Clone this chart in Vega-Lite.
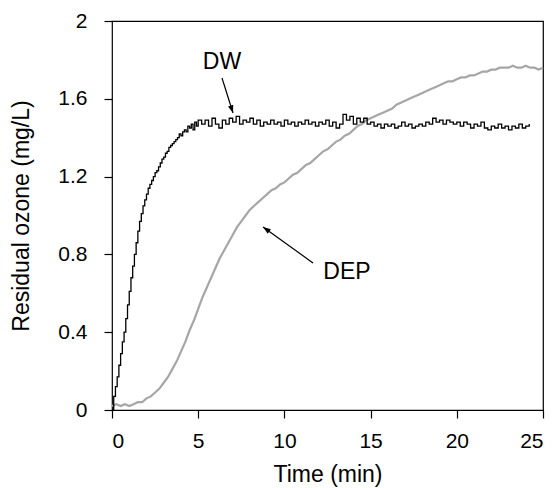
{
  "$schema": "https://vega.github.io/schema/vega-lite/v6.json",
  "width": 431,
  "height": 389,
  "autosize": {"type": "none"},
  "padding": {"left": 112, "top": 21, "right": 16, "bottom": 78},
  "background": "white",
  "config": {
    "view": {"stroke": "black", "strokeWidth": 1.2},
    "font": "Liberation Sans",
    "axis": {
      "grid": false,
      "domain": false,
      "ticks": true,
      "tickSize": 8,
      "tickColor": "black",
      "tickWidth": 1.2,
      "tickOpacity": 1,
      "zindex": 1,
      "labelColor": "black",
      "titleColor": "black",
      "labelFontSize": 21,
      "titleFontSize": 23,
      "titleFontWeight": "normal",
      "labelFont": "Liberation Sans",
      "titleFont": "Liberation Sans"
    }
  },
  "datasets": {
    "dw": [
      {"t":0,"v":0},{"t":0.1,"v":0.07},{"t":0.2,"v":0.12},{"t":0.3,"v":0.17},{"t":0.4,"v":0.23},{"t":0.5,"v":0.29},{"t":0.6,"v":0.35},{"t":0.7,"v":0.40},{"t":0.8,"v":0.47},{"t":0.9,"v":0.54},
      {"t":1.0,"v":0.61},{"t":1.1,"v":0.68},{"t":1.2,"v":0.74},{"t":1.3,"v":0.80},{"t":1.4,"v":0.86},{"t":1.5,"v":0.92},{"t":1.6,"v":0.97},{"t":1.7,"v":1.01},{"t":1.8,"v":1.05},{"t":1.9,"v":1.08},
      {"t":2.0,"v":1.11},{"t":2.1,"v":1.14},{"t":2.2,"v":1.16},{"t":2.3,"v":1.18},{"t":2.4,"v":1.20},{"t":2.5,"v":1.22},{"t":2.6,"v":1.23},{"t":2.7,"v":1.25},{"t":2.8,"v":1.27},{"t":2.9,"v":1.29},
      {"t":3.0,"v":1.30},{"t":3.1,"v":1.32},{"t":3.2,"v":1.33},{"t":3.3,"v":1.35},{"t":3.4,"v":1.36},{"t":3.5,"v":1.37},{"t":3.6,"v":1.38},{"t":3.7,"v":1.39},{"t":3.8,"v":1.40},{"t":3.9,"v":1.42},
      {"t":4.0,"v":1.41},{"t":4.1,"v":1.43},{"t":4.2,"v":1.44},{"t":4.3,"v":1.43},{"t":4.4,"v":1.46},{"t":4.5,"v":1.45},{"t":4.6,"v":1.47},{"t":4.7,"v":1.44},{"t":4.8,"v":1.48},{"t":4.9,"v":1.46},
      {"t":5.0,"v":1.49},{"t":5.2,"v":1.47},{"t":5.4,"v":1.49},{"t":5.6,"v":1.46},{"t":5.8,"v":1.50},{"t":6.0,"v":1.47},{"t":6.2,"v":1.45},{"t":6.4,"v":1.49},{"t":6.6,"v":1.47},{"t":6.8,"v":1.50},
      {"t":7.0,"v":1.48},{"t":7.2,"v":1.51},{"t":7.4,"v":1.47},{"t":7.6,"v":1.49},{"t":7.8,"v":1.48},{"t":8.0,"v":1.50},{"t":8.2,"v":1.47},{"t":8.4,"v":1.49},{"t":8.6,"v":1.46},{"t":8.8,"v":1.48},
      {"t":9.0,"v":1.47},{"t":9.2,"v":1.49},{"t":9.4,"v":1.47},{"t":9.6,"v":1.48},{"t":9.8,"v":1.46},{"t":10.0,"v":1.49},{"t":10.2,"v":1.47},{"t":10.4,"v":1.48},{"t":10.6,"v":1.46},{"t":10.8,"v":1.48},
      {"t":11.0,"v":1.47},{"t":11.2,"v":1.49},{"t":11.4,"v":1.47},{"t":11.6,"v":1.48},{"t":11.8,"v":1.46},{"t":12.0,"v":1.48},{"t":12.2,"v":1.47},{"t":12.4,"v":1.49},{"t":12.6,"v":1.46},{"t":12.8,"v":1.48},
      {"t":13.0,"v":1.45},{"t":13.2,"v":1.47},{"t":13.4,"v":1.52},{"t":13.6,"v":1.49},{"t":13.8,"v":1.51},{"t":14.0,"v":1.47},{"t":14.2,"v":1.50},{"t":14.4,"v":1.48},{"t":14.6,"v":1.50},{"t":14.8,"v":1.47},
      {"t":15.0,"v":1.48},{"t":15.2,"v":1.46},{"t":15.4,"v":1.47},{"t":15.6,"v":1.45},{"t":15.8,"v":1.47},{"t":16.0,"v":1.46},{"t":16.2,"v":1.47},{"t":16.4,"v":1.45},{"t":16.6,"v":1.46},{"t":16.8,"v":1.48},
      {"t":17.0,"v":1.46},{"t":17.2,"v":1.47},{"t":17.4,"v":1.45},{"t":17.6,"v":1.46},{"t":17.8,"v":1.47},{"t":18.0,"v":1.46},{"t":18.2,"v":1.48},{"t":18.4,"v":1.47},{"t":18.6,"v":1.50},{"t":18.8,"v":1.48},
      {"t":19.0,"v":1.49},{"t":19.2,"v":1.47},{"t":19.4,"v":1.49},{"t":19.6,"v":1.48},{"t":19.8,"v":1.47},{"t":20.0,"v":1.48},{"t":20.2,"v":1.46},{"t":20.4,"v":1.48},{"t":20.6,"v":1.47},{"t":20.8,"v":1.45},
      {"t":21.0,"v":1.47},{"t":21.2,"v":1.46},{"t":21.4,"v":1.48},{"t":21.6,"v":1.45},{"t":21.8,"v":1.44},{"t":22.0,"v":1.46},{"t":22.2,"v":1.45},{"t":22.4,"v":1.47},{"t":22.6,"v":1.45},{"t":22.8,"v":1.46},
      {"t":23.0,"v":1.44},{"t":23.2,"v":1.46},{"t":23.4,"v":1.45},{"t":23.6,"v":1.47},{"t":23.8,"v":1.45},{"t":24.0,"v":1.46},{"t":24.2,"v":1.47}
    ],
    "dep": [
      {"t":0,"v":0.02},{"t":0.25,"v":0.03},{"t":0.5,"v":0.02},{"t":0.75,"v":0.03},{"t":1.0,"v":0.02},{"t":1.25,"v":0.03},{"t":1.5,"v":0.04},{"t":1.75,"v":0.04},
      {"t":2.0,"v":0.06},{"t":2.25,"v":0.07},{"t":2.5,"v":0.09},{"t":2.75,"v":0.11},{"t":3.0,"v":0.14},{"t":3.25,"v":0.17},{"t":3.5,"v":0.21},{"t":3.75,"v":0.25},
      {"t":4.0,"v":0.30},{"t":4.25,"v":0.35},{"t":4.5,"v":0.41},{"t":4.75,"v":0.46},{"t":5.0,"v":0.52},{"t":5.25,"v":0.58},{"t":5.5,"v":0.63},{"t":5.75,"v":0.68},
      {"t":6.0,"v":0.73},{"t":6.25,"v":0.78},{"t":6.5,"v":0.82},{"t":6.75,"v":0.86},{"t":7.0,"v":0.90},{"t":7.25,"v":0.94},{"t":7.5,"v":0.97},{"t":7.75,"v":1.00},
      {"t":8.0,"v":1.03},{"t":8.25,"v":1.05},{"t":8.5,"v":1.07},{"t":8.75,"v":1.09},{"t":9.0,"v":1.11},{"t":9.25,"v":1.13},{"t":9.5,"v":1.14},{"t":9.75,"v":1.16},
      {"t":10.0,"v":1.17},{"t":10.25,"v":1.19},{"t":10.5,"v":1.21},{"t":10.75,"v":1.22},{"t":11.0,"v":1.24},{"t":11.25,"v":1.26},{"t":11.5,"v":1.27},{"t":11.75,"v":1.29},
      {"t":12.0,"v":1.31},{"t":12.25,"v":1.33},{"t":12.5,"v":1.34},{"t":12.75,"v":1.36},{"t":13.0,"v":1.38},{"t":13.25,"v":1.39},{"t":13.5,"v":1.41},{"t":13.75,"v":1.42},
      {"t":14.0,"v":1.44},{"t":14.25,"v":1.46},{"t":14.5,"v":1.47},{"t":14.75,"v":1.49},{"t":15.0,"v":1.50},{"t":15.25,"v":1.51},{"t":15.5,"v":1.52},{"t":15.75,"v":1.53},
      {"t":16.0,"v":1.54},{"t":16.25,"v":1.55},{"t":16.5,"v":1.57},{"t":16.75,"v":1.58},{"t":17.0,"v":1.59},{"t":17.25,"v":1.60},{"t":17.5,"v":1.61},{"t":17.75,"v":1.62},
      {"t":18.0,"v":1.63},{"t":18.25,"v":1.64},{"t":18.5,"v":1.65},{"t":18.75,"v":1.66},{"t":19.0,"v":1.67},{"t":19.25,"v":1.68},{"t":19.5,"v":1.69},{"t":19.75,"v":1.69},
      {"t":20.0,"v":1.70},{"t":20.25,"v":1.71},{"t":20.5,"v":1.71},{"t":20.75,"v":1.72},{"t":21.0,"v":1.72},{"t":21.25,"v":1.73},{"t":21.5,"v":1.74},{"t":21.75,"v":1.74},
      {"t":22.0,"v":1.75},{"t":22.25,"v":1.75},{"t":22.5,"v":1.76},{"t":22.75,"v":1.76},{"t":23.0,"v":1.76},{"t":23.25,"v":1.77},{"t":23.5,"v":1.76},{"t":23.75,"v":1.76},
      {"t":24.0,"v":1.77},{"t":24.25,"v":1.76},{"t":24.5,"v":1.76},{"t":24.75,"v":1.75},{"t":25.0,"v":1.76}
    ],
    "arrows": [
      {"x":6.38,"y":1.707,"x2":7.02,"y2":1.527,"a":162},
      {"x":11.66,"y":0.756,"x2":8.76,"y2":0.941,"a":306}
    ],
    "labels": [
      {"x":6.38,"y":1.79,"text":"DW"},
      {"x":13.63,"y":0.71,"text":"DEP"}
    ]
  },
  "layer": [
    {
      "data": {"name": "dep"},
      "mark": {"type": "line", "color": "#a6a6a6", "strokeWidth": 2.2},
      "encoding": {
        "x": {"field": "t", "type": "quantitative", "scale": {"domain": [0, 25], "nice": false},
          "axis": {"values": [0,5,10,15,20,25], "title": "Time (min)", "labelPadding": 12, "titlePadding": 12,
            "encode": {"ticks": {"update": {"y2": {"value": -8}}}}}},
        "y": {"field": "v", "type": "quantitative", "scale": {"domain": [0, 2], "nice": false},
          "axis": {"values": [0,0.4,0.8,1.2,1.6,2], "format": "~g", "title": "Residual ozone (mg/L)", "labelPadding": 17, "titlePadding": 24,
            "encode": {"ticks": {"update": {"x2": {"value": 8}}}}}}
      }
    },
    {
      "data": {"name": "dw"},
      "mark": {"type": "line", "color": "black", "strokeWidth": 1.3, "interpolate": "step-after"},
      "encoding": {
        "x": {"field": "t", "type": "quantitative"},
        "y": {"field": "v", "type": "quantitative"}
      }
    },
    {
      "data": {"name": "arrows"},
      "mark": {"type": "rule", "color": "black", "strokeWidth": 1.2},
      "encoding": {
        "x": {"field": "x", "type": "quantitative"},
        "y": {"field": "y", "type": "quantitative"},
        "x2": {"field": "x2"},
        "y2": {"field": "y2"}
      }
    },
    {
      "data": {"name": "arrows"},
      "mark": {"type": "point", "filled": true, "color": "black", "opacity": 1, "size": 60, "shape": "M0,0L-0.7,2L0.7,2Z"},
      "encoding": {
        "x": {"field": "x2", "type": "quantitative"},
        "y": {"field": "y2", "type": "quantitative"},
        "angle": {"field": "a", "type": "quantitative", "scale": null}
      }
    },
    {
      "data": {"name": "labels"},
      "mark": {"type": "text", "fontSize": 23, "font": "Liberation Sans", "color": "black", "align": "center", "baseline": "middle"},
      "encoding": {
        "x": {"field": "x", "type": "quantitative"},
        "y": {"field": "y", "type": "quantitative"},
        "text": {"field": "text"}
      }
    }
  ]
}
